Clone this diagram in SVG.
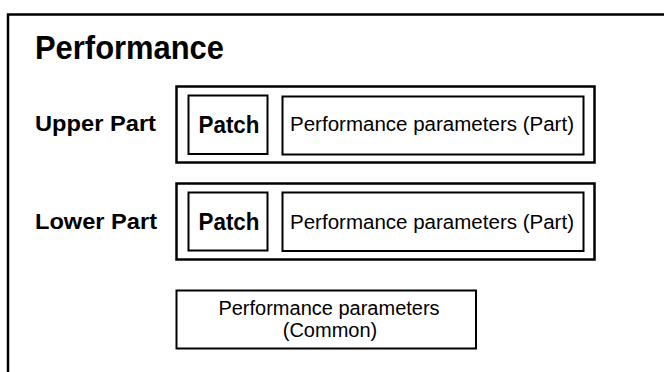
<svg xmlns="http://www.w3.org/2000/svg" width="664" height="372" viewBox="0 0 664 372">
<style>
.frame{fill:none;stroke:#000;stroke-width:2.5}
.outer{fill:#fff;stroke:#000;stroke-width:2.5}
.box{fill:#fff;stroke:#000;stroke-width:2}
.title{font-family:"Liberation Sans",Arial,Helvetica,sans-serif;font-weight:bold;font-size:33px;fill:#000}
.lbl{font-family:"Liberation Sans",Arial,Helvetica,sans-serif;font-weight:bold;font-size:22px;fill:#000}
.patch{font-family:"Liberation Sans",Arial,Helvetica,sans-serif;font-weight:bold;font-size:23px;fill:#000}
.txt{font-family:"Liberation Sans",Arial,Helvetica,sans-serif;font-size:20px;fill:#000}
</style>
<rect width="664" height="372" fill="#fff"/>
<g id="frame">
<path class="frame" d="M8,372 V14.5 H664"/>
<text class="title" x="35" y="59" textLength="189" lengthAdjust="spacingAndGlyphs">Performance</text>
</g>
<g id="upper-part">
<text class="lbl" x="35" y="131" textLength="121" lengthAdjust="spacingAndGlyphs">Upper Part</text>
<rect class="outer" x="176.5" y="86.5" width="418" height="76"/>
<g id="upper-patch">
<rect class="box" x="188.5" y="95.5" width="79" height="58.5"/>
<text class="patch" x="198.5" y="133" textLength="61" lengthAdjust="spacingAndGlyphs">Patch</text>
</g>
<g id="upper-params">
<rect class="box" x="282.5" y="96.5" width="301" height="58"/>
<text class="txt" x="290" y="131" textLength="284" lengthAdjust="spacingAndGlyphs">Performance parameters (Part)</text>
</g>
</g>
<g id="lower-part">
<text class="lbl" x="35" y="229" textLength="122" lengthAdjust="spacingAndGlyphs">Lower Part</text>
<rect class="outer" x="176.5" y="183.5" width="418" height="76"/>
<g id="lower-patch">
<rect class="box" x="188.5" y="192.5" width="79" height="58"/>
<text class="patch" x="198.5" y="230" textLength="61" lengthAdjust="spacingAndGlyphs">Patch</text>
</g>
<g id="lower-params">
<rect class="box" x="282.5" y="192.5" width="301" height="58.5"/>
<text class="txt" x="290" y="229" textLength="284" lengthAdjust="spacingAndGlyphs">Performance parameters (Part)</text>
</g>
</g>
<g id="common-params">
<rect class="box" x="176.5" y="290.5" width="299.5" height="58"/>
<text class="txt" x="329" y="315" text-anchor="middle">Performance parameters</text>
<text class="txt" x="330" y="337" text-anchor="middle">(Common)</text>
</g>
<g id="connectors"></g>
</svg>
